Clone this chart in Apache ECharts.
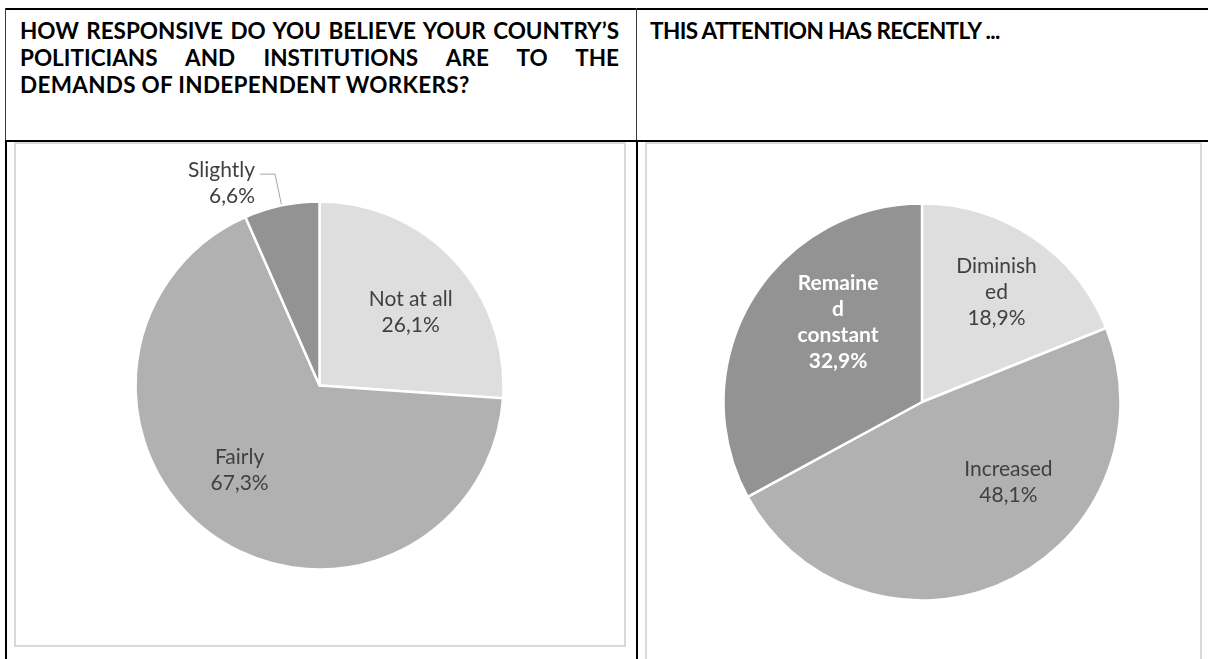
<!DOCTYPE html>
<html>
<head>
<meta charset="utf-8">
<script src="https://cdn.jsdelivr.net/npm/echarts@6/dist/echarts.min.js"></script>
<style>
  html, body { margin: 0; padding: 0; background: #fff; width: 1208px; height: 659px; overflow: hidden; }
  .rule { position: absolute; background: #000; }
  .thin { background: #3a3a3a; }
  .box { position: absolute; border: 2px solid #d9d9d9; box-sizing: border-box; }
  .hd { position: absolute; font-family: Lato, "Open Sans", sans-serif; font-weight: bold; font-size: 22.5px; line-height: 27px; color: #000; }
  .hd div { white-space: nowrap; }
  .hd .just { text-align: justify; text-align-last: justify; }
  #chart { position: absolute; left: 0; top: 0; width: 1208px; height: 659px; }
</style>
</head>
<body>
  <!-- table frame -->
  <div class="rule" style="left:5px; top:8px; width:1203px; height:2px;"></div>
  <div class="rule thin" style="left:5px; top:8px; width:1px; height:133px;"></div>
  <div class="rule thin" style="left:636px; top:8px; width:1px; height:133px;"></div>
  <div class="rule" style="left:5px; top:140px; width:1203px; height:2px;"></div>
  <div class="rule" style="left:5px; top:140px; width:2px; height:519px;"></div>
  <div class="rule" style="left:636px; top:140px; width:2px; height:519px;"></div>

  <!-- chart area frames -->
  <div class="box" style="left:14px; top:142px; width:612px; height:505px;"></div>
  <div class="box" style="left:645px; top:142px; width:557px; height:540px;"></div>

  <!-- column headings -->
  <div class="hd" style="left:20px; top:17px; width:599px;">
    <div class="just">HOW RESPONSIVE DO YOU BELIEVE YOUR COUNTRY’S</div>
    <div class="just">POLITICIANS AND INSTITUTIONS ARE TO THE</div>
    <div style="letter-spacing:0.3px;">DEMANDS OF INDEPENDENT WORKERS?</div>
  </div>
  <div class="hd" style="left:650px; top:17px; letter-spacing:-0.6px;">
    <div>THIS ATTENTION HAS RECENTLY ...</div>
  </div>

  <div id="chart"></div>

<script>
// Responsiveness of politicians and institutions (share of respondents, %)
const responsivenessCategories = ['Not at all', 'Fairly', 'Slightly'];
const responsivenessShares = [26.1, 67.3, 6.6];

// How that attention has changed recently (share of respondents, %)
const trendCategories = ['Diminished', 'Increased', 'Remained constant'];
const trendShares = [18.9, 48.1, 32.9];
// Category names as they wrap inside the slices
const trendLabelText = ['Diminish\ned', 'Increased', 'Remaine\nd\nconstant'];

const LIGHT = '#dedede', MID = '#b1b1b1', DARK = '#939393';
const TEXT = '#404040';
const FONT = 'Lato, "Open Sans", sans-serif';

const fmtPct = v => v.toFixed(1).replace('.', ',') + '%';

// Places in-slice labels along each slice's bisector:
// placement[i] = [fraction of radius, angular nudge in degrees];
// a number instead of a pair just drops an outside label by that many pixels
function bisectorLayout(center, radius, values, placement) {
  const total = values.reduce((a, b) => a + b, 0);
  return function (params) {
    const p = placement[params.dataIndex];
    if (p == null) return {};
    if (typeof p === 'number') return { dy: p };
    let before = 0;
    for (let i = 0; i < params.dataIndex; i++) before += values[i];
    const deg = (before + values[params.dataIndex] / 2) / total * 360 + p[1];
    const a = deg * Math.PI / 180;
    const d = p[0] * radius;
    return {
      x: center[0] + d * Math.sin(a),
      y: center[1] - d * Math.cos(a),
      align: 'center',
      verticalAlign: 'middle'
    };
  };
}

const leftCenter = [319.5, 385.5], leftRadius = 184;
const rightCenter = [922, 402], rightRadius = 198.5;
const leftColors = [LIGHT, MID, DARK];
const rightColors = [LIGHT, MID, DARK];

const baseLabel = {
  fontFamily: FONT, fontSize: 21, lineHeight: 26, color: TEXT
};

const leftData = responsivenessCategories.map((name, i) => {
  const item = { name, value: responsivenessShares[i], itemStyle: { color: leftColors[i] } };
  if (name === 'Slightly') {
    item.label = { position: 'outside' };
    item.labelLine = { show: true };
  }
  return item;
});

const rightData = trendCategories.map((name, i) => {
  const item = { name, value: trendShares[i], itemStyle: { color: rightColors[i] } };
  if (name === 'Remained constant') {
    item.label = { color: '#ffffff', fontWeight: 'bold' };
  }
  return item;
});

const chart = echarts.init(document.getElementById('chart'), null, { renderer: 'canvas' });
chart.setOption({
  animation: false,
  backgroundColor: 'transparent',
  series: [
    {
      type: 'pie',
      center: leftCenter,
      radius: leftRadius,
      startAngle: 90,
      clockwise: true,
      avoidLabelOverlap: false,
      silent: true,
      itemStyle: { borderColor: '#ffffff', borderWidth: 2.5 },
      label: Object.assign({}, baseLabel, {
        position: 'inside',
        formatter: p => p.name + '\n' + fmtPct(p.value)
      }),
      labelLine: {
        show: false,
        length: 32, length2: 15,
        lineStyle: { color: '#a6a6a6', width: 1 }
      },
      labelLayout: bisectorLayout(leftCenter, leftRadius, responsivenessShares,
        [[0.635, 4.3], [0.632, 8.3], 9]),
      data: leftData
    },
    {
      type: 'pie',
      center: rightCenter,
      radius: rightRadius,
      startAngle: 90,
      clockwise: true,
      avoidLabelOverlap: false,
      silent: true,
      itemStyle: { borderColor: '#ffffff', borderWidth: 2.5 },
      label: Object.assign({}, baseLabel, {
        position: 'inside',
        formatter: p => trendLabelText[p.dataIndex] + '\n' + fmtPct(p.value)
      }),
      labelLine: { show: false },
      labelLayout: bisectorLayout(rightCenter, rightRadius, trendShares,
        [[0.67, 0], [0.593, -22], [0.585, 13]]),
      data: rightData
    }
  ]
});
</script>
</body>
</html>
